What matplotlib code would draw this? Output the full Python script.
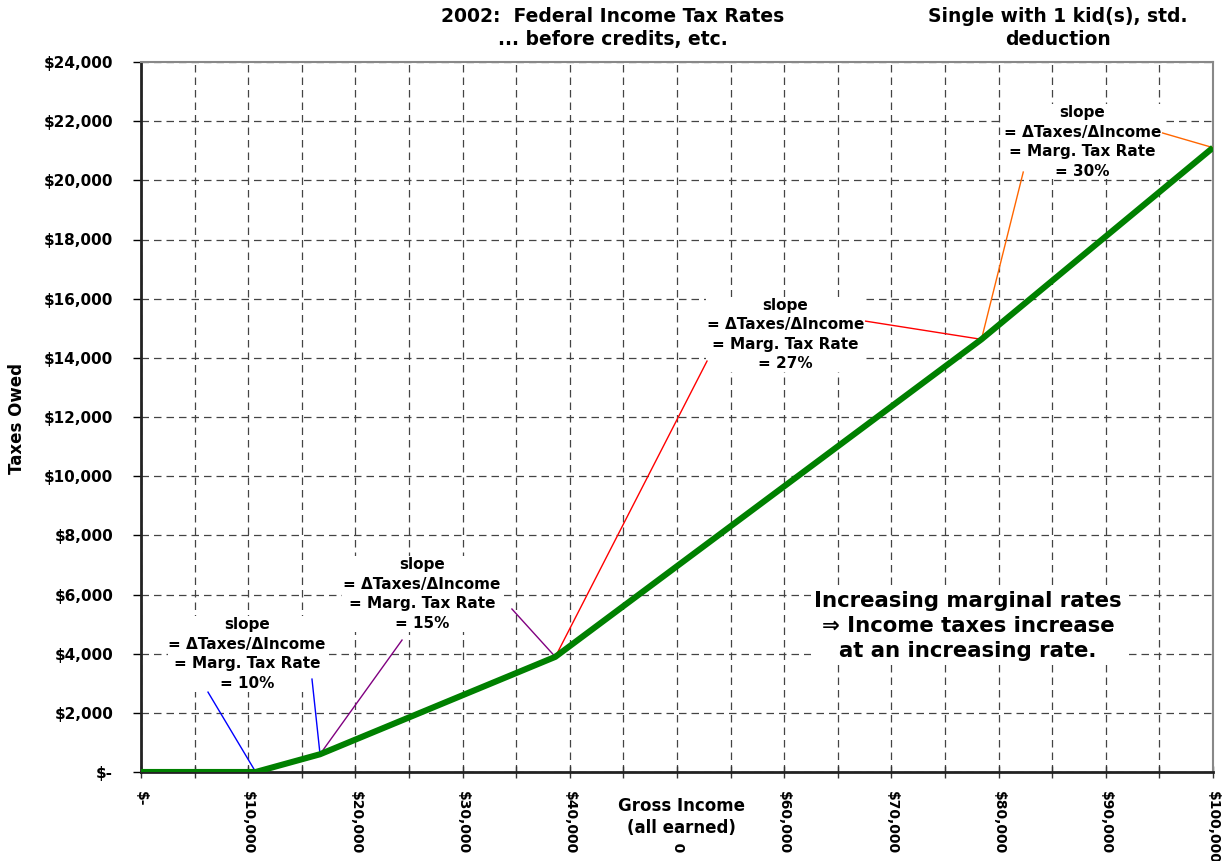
import matplotlib
matplotlib.use('Agg')
from matplotlib import pyplot as plt
from matplotlib.ticker import FuncFormatter, MultipleLocator

plt.rcParams['font.family'] = ['DejaVu Sans']
plt.rcParams['font.weight'] = 'bold'

# 2002 federal tax, single with 1 kid, standard deduction: kinks of the schedule
income = [0, 10700, 16700, 38650, 78400, 100000]
taxes = [0, 0, 600, 3892.5, 14625, 21105]
rates = ['10%', '15%', '27%', '30%']

# where each slope note sits, and where its pointer lines start
note_xy = [(9900, 3990), (26200, 6020), (60100, 14790), (87800, 21300)]
pointers = [((6250, 2700), 1, '#0000ff'), ((15950, 3140), 2, '#0000ff'),
            ((24350, 4460), 2, '#800080'), ((34600, 5510), 3, '#800080'),
            ((52800, 13890), 3, '#ff0000'), ((67600, 15240), 4, '#ff0000'),
            ((82300, 20280), 4, '#ff6600'), ((95300, 21600), 5, '#ff6600')]


def dollars(v, pos):
    return '$-' if v == 0 else '${:,.0f}'.format(v)


fig = plt.figure(figsize=(12.25, 8.61), dpi=100)
ax = fig.add_axes([141 / 1225, 1 - 772 / 861, 1072 / 1225, 710 / 861])

ax.plot(income, taxes, color='#008000', lw=4.4, solid_capstyle='butt', zorder=4)

for (start, k, col) in pointers:
    ax.plot([start[0], income[k]], [start[1], taxes[k]], color=col, lw=1, zorder=3)

for (x, y), r in zip(note_xy, rates):
    ax.text(x, y, 'slope\n= \u0394Taxes/\u0394Income\n= Marg. Tax Rate\n= ' + r,
            ha='center', va='center', fontsize=11, fontweight='bold', linespacing=1.38,
            bbox=dict(facecolor='white', edgecolor='none', pad=0.5), zorder=2)

ax.text(77150, 4935, 'Increasing marginal rates\n\u21d2 Income taxes increase\nat an increasing rate.',
        ha='center', va='center', fontsize=15.3, fontweight='bold', linespacing=1.3,
        bbox=dict(facecolor='white', edgecolor='none', pad=2), zorder=2)

ax.set_xlim(0, 100000)
ax.set_ylim(0, 24000)
ax.xaxis.set_major_locator(MultipleLocator(10000))
ax.xaxis.set_minor_locator(MultipleLocator(5000))
ax.yaxis.set_major_locator(MultipleLocator(2000))
ax.xaxis.set_major_formatter(FuncFormatter(dollars))
ax.yaxis.set_major_formatter(FuncFormatter(dollars))

ax.grid(True, which='both', color='#444444', lw=0.9, linestyle=(0, (6, 4)), zorder=0)
ax.set_axisbelow(True)

ax.tick_params(axis='x', which='both', direction='inout', length=9, width=1, color='#333333')
ax.tick_params(axis='x', which='major', pad=9, labelsize=10, labelrotation=-90)
ax.tick_params(axis='y', direction='out', length=6, width=1, pad=14, labelsize=11)
for lab in ax.get_xticklabels() + ax.get_yticklabels():
    lab.set_fontweight('bold')

for s in ('top', 'right'):
    ax.spines[s].set_color('#888888')
    ax.spines[s].set_linewidth(1.5)
for s in ('left', 'bottom'):
    ax.spines[s].set_color('#222222')
    ax.spines[s].set_linewidth(2)

fig.text(613 / 1225, 1 - 28 / 861, '2002:  Federal Income Tax Rates\n... before credits, etc.',
         ha='center', va='center', fontsize=13.5, fontweight='bold', linespacing=1.3)
fig.text(1058 / 1225, 1 - 28 / 861, 'Single with 1 kid(s), std.\ndeduction',
         ha='center', va='center', fontsize=13.5, fontweight='bold', linespacing=1.3)
fig.text(681 / 1225, 1 - 817 / 861, 'Gross Income\n(all earned)',
         ha='center', va='center', fontsize=12, fontweight='bold', linespacing=1.3,
         bbox=dict(facecolor='white', edgecolor='none', pad=5))
fig.text(17 / 1225, 1 - 418 / 861, 'Taxes Owed', rotation=90,
         ha='center', va='center', fontsize=12, fontweight='bold')

plt.savefig('out.png', dpi=100)
